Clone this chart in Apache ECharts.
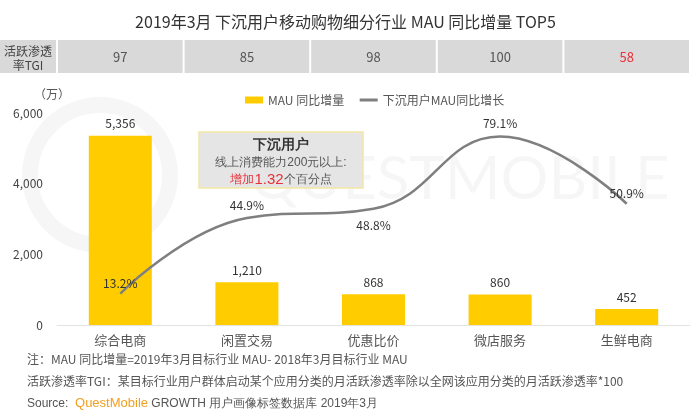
<!DOCTYPE html>
<html>
<head>
<meta charset="utf-8">
<script src="https://cdn.jsdelivr.net/npm/echarts@6/dist/echarts.min.js"></script>
<style>
html,body{margin:0;padding:0;background:#fff;}
#main{width:691px;height:419px;}
</style>
</head>
<body>
<div id="main"></div>
<script>
var categories=['综合电商','闲置交易','优惠比价','微店服务','生鲜电商'];
var mauData=[5356,1210,868,860,452];
var growthData=[13.2,44.9,48.8,79.1,50.9];
var tgiData=['97','85','98','100','58'];
var growthPos=['top','top','bottom','top','top'];

var gridLeft=57,gridRight=1,gridTop=113,gridBottom=94;
var fontCN='"Noto Sans CJK SC","Noto Sans",sans-serif';

var chart=echarts.init(document.getElementById('main'));

// 表头灰色单元格
var cells=[];
cells.push({type:'rect',shape:{x:0,y:40,width:56,height:33},style:{fill:'#d9d9d9'},z:-1});
var cw=(691-gridLeft-gridRight)/categories.length;
for(var i=0;i<categories.length;i++){
    cells.push({type:'rect',shape:{x:gridLeft+i*cw+1,y:40,width:cw-2,height:33},style:{fill:'#d9d9d9'},z:-1});
}

chart.setOption({
    backgroundColor:'#fff',
    textStyle:{fontFamily:fontCN},
    title:{
        text:'2019年3月 下沉用户移动购物细分行业 MAU 同比增量 TOP5',
        left:'center',top:9,
        textStyle:{fontSize:16,fontWeight:'normal',color:'#333',fontFamily:fontCN}
    },
    legend:{
        top:89,left:240,
        itemGap:14,itemWidth:18,itemHeight:7,
        textStyle:{fontSize:12,color:'#555'},
        data:[
            {name:'MAU 同比增量',icon:'rect'},
            {name:'下沉用户MAU同比增长',itemStyle:{opacity:0},lineStyle:{width:3}}
        ]
    },
    grid:{left:gridLeft,right:gridRight,top:gridTop,bottom:gridBottom},
    xAxis:[
        {
            type:'category',data:categories,
            axisLine:{lineStyle:{color:'#e3e3e3'}},
            axisTick:{show:false},
            axisLabel:{fontSize:13,color:'#555',margin:9}
        },
        {
            type:'category',data:tgiData,position:'top',offset:49,
            axisLine:{show:false},axisTick:{show:false},
            axisLabel:{
                fontSize:13,margin:0,
                formatter:function(v){return v=='58'?'{r|'+v+'}':'{n|'+v+'}';},
                rich:{n:{color:'#555',fontSize:13},r:{color:'#e8303a',fontSize:13}}
            }
        }
    ],
    yAxis:[
        {
            type:'value',min:0,max:6000,interval:2000,
            name:'（万）',nameGap:13,
            nameTextStyle:{color:'#555',fontSize:12,align:'center',padding:[0,0,0,-10]},
            axisLine:{show:false},axisTick:{show:false},splitLine:{show:false},
            axisLabel:{fontSize:12,color:'#444',margin:14,
                formatter:function(v){return v.toLocaleString('en-US');}}
        },
        {
            type:'value',min:0,max:89,show:false,splitLine:{show:false}
        }
    ],
    series:[
        {
            name:'MAU 同比增量',type:'bar',barWidth:63,
            itemStyle:{color:'#ffcc00'},
            label:{show:true,position:'top',color:'#333',fontSize:12,distance:6,
                formatter:function(p){return p.value.toLocaleString('en-US');}},
            data:mauData
        },
        {
            name:'下沉用户MAU同比增长',type:'line',yAxisIndex:1,smooth:0.45,
            symbol:'circle',symbolSize:0,showSymbol:true,
            lineStyle:{color:'#7f7f7f',width:2.5},
            itemStyle:{color:'#7f7f7f'},
            data:growthData.map(function(v,i){
                return {value:v,label:{show:true,position:growthPos[i],distance:i==2?11:7,
                    offset:i==4?[0,3]:(i==0?[0,3]:[0,0]),
                    color:'#333',fontSize:12,formatter:'{c}%'}};
            })
        }
    ],
    graphic:cells.concat([
        {type:'text',x:28,y:44,style:{text:'活跃渗透\n率TGI',align:'center',fontSize:12,fill:'#444',lineHeight:14,fontFamily:fontCN}},
        // 水印
        {type:'circle',shape:{cx:100,cy:175,r:70},style:{fill:'none',stroke:'rgba(0,0,0,0.035)',lineWidth:16},z:-2},
        {type:'text',left:250,top:150,style:{text:'QUESTMOBILE',fontSize:60,fill:'rgba(0,0,0,0.035)',fontFamily:'Lato,sans-serif'},z:-2},
        // 说明框
        {type:'rect',shape:{x:199,y:132,width:164,height:56},style:{fill:'#e5e5e5',stroke:'#f2e6a6',lineWidth:1.5},z:10},
        {type:'text',x:281,y:136,z:11,style:{
            text:'{b|下沉用户}\n{g|线上消费能力200元以上:}\n{r|增加}{rn|1.32}{g|个百分点}',
            align:'center',fontFamily:fontCN,
            rich:{
                b:{fontSize:14,fontWeight:'bold',fill:'#333',lineHeight:18,align:'center'},
                g:{fontSize:12,fill:'#555',lineHeight:17},
                r:{fontSize:12,fill:'#e8303a',lineHeight:17},
                rn:{fontSize:15,fill:'#e8303a',lineHeight:17}
            }
        }},
        // 注释
        {type:'text',left:27,top:353,style:{text:'注：MAU 同比增量=2019年3月目标行业 MAU- 2018年3月目标行业 MAU',fontSize:12,fill:'#555',fontFamily:fontCN}},
        {type:'text',left:27,top:375,style:{text:'活跃渗透率TGI：某目标行业用户群体启动某个应用分类的月活跃渗透率除以全网该应用分类的月活跃渗透率*100',fontSize:12,fill:'#555',fontFamily:fontCN}},
        {type:'text',left:27,top:397,style:{
            text:'{g|Source:  }{o|QuestMobile}{g| GROWTH 用户画像标签数据库 2019年3月}',
            fontFamily:fontCN,
            rich:{g:{fontSize:12,fill:'#555'},o:{fontSize:13,fill:'#f0a020'}}
        }}
    ])
});
</script>
</body>
</html>
